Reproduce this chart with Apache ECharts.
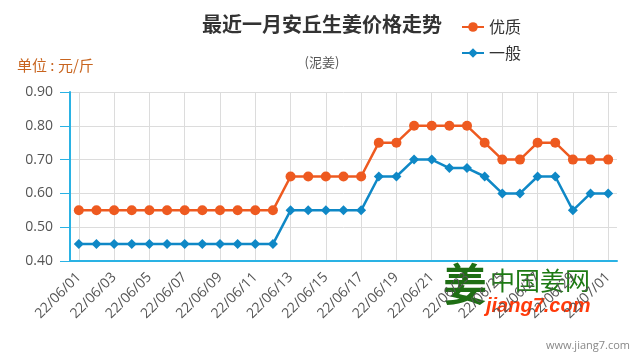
<!DOCTYPE html>
<html><head><meta charset="utf-8">
<script src="https://cdn.jsdelivr.net/npm/echarts@6/dist/echarts.min.js"></script>
<style>html,body{margin:0;padding:0;background:#fff}#c{width:640px;height:360px}</style>
</head><body><div id="c"></div>
<script>
var categories = ['22/06/01','22/06/02','22/06/03','22/06/04','22/06/05','22/06/06','22/06/07','22/06/08','22/06/09','22/06/10',
 '22/06/11','22/06/12','22/06/13','22/06/14','22/06/15','22/06/16','22/06/17','22/06/18','22/06/19','22/06/20',
 '22/06/21','22/06/22','22/06/23','22/06/24','22/06/25','22/06/26','22/06/27','22/06/28','22/06/29','22/06/30','22/07/01'];
var premium = [0.55,0.55,0.55,0.55,0.55,0.55,0.55,0.55,0.55,0.55,0.55,0.55,
 0.65,0.65,0.65,0.65,0.65,0.75,0.75,0.80,0.80,0.80,0.80,0.75,0.70,0.70,0.75,0.75,0.70,0.70,0.70];
var ordinary = [0.45,0.45,0.45,0.45,0.45,0.45,0.45,0.45,0.45,0.45,0.45,0.45,
 0.55,0.55,0.55,0.55,0.55,0.65,0.65,0.70,0.70,0.675,0.675,0.65,0.60,0.60,0.65,0.65,0.55,0.60,0.60];
var yTicks = {min:0.4, max:0.9, interval:0.1};

var cjk = '"Noto Sans CJK SC", "Noto Sans", sans-serif';
var num = '"Open Sans", "Noto Sans", sans-serif';
var chart = echarts.init(document.getElementById('c'));
chart.setOption({
  animation:false,
  title:{text:'最近一月安丘生姜价格走势', subtext:'(泥姜)', left:317, textAlign:'center', top:9,
    itemGap:22,
    textStyle:{fontFamily:cjk, fontSize:20, fontWeight:'bold', color:'#333'},
    subtextStyle:{fontFamily:cjk, fontSize:13, color:'#555'}},
  legend:{orient:'vertical', left:456, top:14, itemWidth:22, itemHeight:12, itemGap:10,
    textStyle:{fontFamily:cjk, fontSize:16, color:'#333'},
    data:['优质','一般']},
  graphic:[
    {type:'text', left:17, top:58, style:{text:'单位 : 元/斤', fill:'#c8641e', font:'15px '+cjk}},
    {type:'text', left:443, top:262, style:{text:'姜', fill:'#1e6e14', font:'bold 44px '+cjk}},
    {type:'text', left:490, top:268, style:{text:'中国姜网', fill:'#1e7a14', font:'25px '+cjk}},
    {type:'text', left:486, top:296, style:{text:'jiang7.com', fill:'#ff3a0a', font:'italic bold 20px Arial, "Liberation Sans", sans-serif'}},
    {type:'text', right:10, top:340, style:{text:'www.jiang7.com', fill:'#888', font:'11px '+num}}
  ],
  grid:{left:70, right:23, top:92, bottom:99},
  xAxis:{type:'category', data:categories, boundaryGap:true,
    axisLine:{lineStyle:{color:'#2ab2e4', width:2}},
    axisTick:{alignWithLabel:true, interval:1, length:10, lineStyle:{color:'#2ab2e4', width:1}},
    axisLabel:{interval:1, rotate:45, margin:14, fontFamily:num, fontSize:14, color:'#555'},
    splitLine:{show:true, interval:1, alignWithLabel:true, lineStyle:{color:'#dcdcdc', width:1}}},
  yAxis:{type:'value', min:yTicks.min, max:yTicks.max, interval:yTicks.interval,
    axisLine:{show:true, lineStyle:{color:'#2ab2e4', width:2}},
    axisTick:{show:true, length:10, lineStyle:{color:'#2ab2e4', width:1}},
    axisLabel:{margin:17, fontFamily:num, fontSize:14, color:'#555', formatter:function(v){return v.toFixed(2);}},
    splitLine:{lineStyle:{color:'#dcdcdc', width:1}}},
  series:[
    {name:'优质', type:'line', data:premium, symbol:'circle', symbolSize:10,
      itemStyle:{color:'#ee5a20'}, lineStyle:{color:'#ee5a20', width:2.5}},
    {name:'一般', type:'line', data:ordinary, symbol:'diamond', symbolSize:10,
      itemStyle:{color:'#0f88c6'}, lineStyle:{color:'#0f88c6', width:2.5}}
  ]
});
</script></body></html>
